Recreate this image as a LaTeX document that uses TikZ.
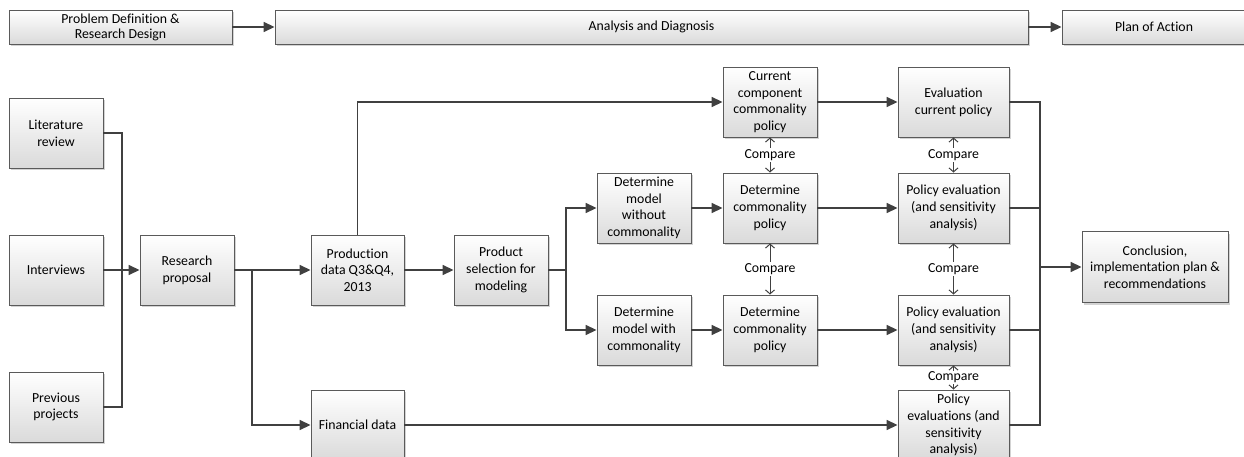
\documentclass[tikz,border=0pt]{standalone}
\usepackage{fontspec}
\setmainfont{Carlito}[Ligatures=NoCommon]
\usetikzlibrary{arrows.meta,shadows,calc}
\definecolor{linegray}{HTML}{404040}
\definecolor{boxedge}{HTML}{5A5A5A}
\definecolor{boxbottom}{HTML}{DADADA}
\tikzset{
  box/.style={draw=boxedge, line width=0.9pt, top color=white, bottom color=boxbottom,
    align=center, inner sep=2pt, font=\fontsize{13.8}{16.7}\selectfont,
    drop shadow={shadow xshift=2pt, shadow yshift=-2pt, opacity=0.35, fill=black!50}},
  sz/.style 2 args={minimum width=#1, minimum height=#2},
  flow/.style={draw=linegray, line width=1.6pt, -{Triangle[length=11pt,width=10pt]}},
  plain/.style={draw=linegray, line width=1.6pt},
  cmp/.style={draw=linegray, line width=1pt,
    {Straight Barb[length=4pt,width=9pt]}-{Straight Barb[length=4pt,width=9pt]}},
  cmplabel/.style={fill=white, inner sep=1pt, font=\fontsize{13.8}{16.7}\selectfont}
}
\begin{document}
\begin{tikzpicture}[x=1pt,y=-1pt]
\clip (0,0) rectangle (1244,457);

% phase bar
\node[box, sz={223pt}{34pt}, font=\fontsize{13.8}{15}\selectfont] (ph1) at (120.5,27) {Problem Definition \&\\Research Design};
\node[box, sz={753pt}{34pt}] (ph2) at (651.5,27) {Analysis and Diagnosis};
\node[box, sz={184pt}{34pt}] (ph3) at (1154,27) {Plan of Action};
\draw[flow] (ph1) -- (ph2);
\draw[flow] (ph2) -- (ph3);

% inputs
\node[box, sz={94pt}{70pt}] (lit) at (56,133) {Literature\\review};
\node[box, sz={94pt}{70pt}] (int) at (56,270) {Interviews};
\node[box, sz={94pt}{70pt}] (prev) at (56,407) {Previous\\projects};
\node[box, sz={94pt}{70pt}] (rp) at (187,270) {Research\\proposal};

% data
\node[box, sz={93pt}{70pt}] (prod) at (357.5,270) {Production\\data Q3\&Q4,\\2013};
\node[box, sz={93pt}{70pt}] (fin) at (357.5,425) {Financial data};
\node[box, sz={94pt}{70pt}] (psel) at (501,270) {Product\\selection for\\modeling};

% models
\node[box, sz={94pt}{70pt}] (dmw) at (644,208) {Determine\\model\\without\\commonality};
\node[box, sz={94pt}{70pt}] (dmc) at (644,330) {Determine\\model with\\commonality};

% policies
\node[box, sz={94pt}{70pt}] (cur) at (770,102) {Current\\component\\commonality\\policy};
\node[box, sz={94pt}{70pt}] (dcp1) at (770,208) {Determine\\commonality\\policy};
\node[box, sz={94pt}{70pt}] (dcp2) at (770,330) {Determine\\commonality\\policy};

% evaluations
\node[box, sz={111pt}{70pt}] (ecp) at (953.5,102) {Evaluation\\current policy};
\node[box, sz={111pt}{70pt}] (pe1) at (953.5,208) {Policy evaluation\\(and sensitivity\\analysis)};
\node[box, sz={111pt}{70pt}] (pe2) at (953.5,330) {Policy evaluation\\(and sensitivity\\analysis)};
\node[box, sz={111pt}{70pt}] (pe3) at (953.5,425) {Policy\\evaluations (and\\sensitivity\\analysis)};

% conclusion
\node[box, sz={146pt}{71pt}] (conc) at (1155,267) {Conclusion,\\implementation plan \&\\recommendations};

% junction points
\coordinate (lbus) at (122,270);
\coordinate (rbr) at (252,270);
\coordinate (pbr) at (566,270);
\coordinate (rbus) at (1040,267);

% left side
\draw[plain] (lit.east) -| (lbus);
\draw[plain] (prev.east) -| (lbus);
\draw[flow] (int) -- (rp);
\draw[flow] (rp) -- (prod);
\draw[flow] (rbr) |- (fin.west);
\draw[flow] (prod.north) |- (cur.west);
\draw[flow] (prod) -- (psel);
\draw[plain] (psel.east) -- (pbr);
\draw[flow] (pbr) |- (dmw.west);
\draw[flow] (pbr) |- (dmc.west);

% middle
\draw[flow] (dmw) -- (dcp1);
\draw[flow] (dmc) -- (dcp2);
\draw[flow] (cur) -- (ecp);
\draw[flow] (dcp1) -- (pe1);
\draw[flow] (dcp2) -- (pe2);
\draw[flow] (fin) -- (pe3);

% comparisons
\draw[cmp] (cur.south) -- node[cmplabel] {Compare} (dcp1.north);
\draw[cmp] (dcp1.south) -- node[cmplabel] {Compare} (dcp2.north);
\draw[cmp] (ecp.south) -- node[cmplabel] {Compare} (pe1.north);
\draw[cmp] (pe1.south) -- node[cmplabel] {Compare} (pe2.north);
\draw[cmp] (pe2.south) -- node[cmplabel] {Compare} (pe3.north);

% right collector
\draw[plain] (ecp.east) -| (rbus);
\draw[plain] (pe3.east) -| (rbus);
\draw[plain] (pe1.east) -- (pe1.east -| rbus);
\draw[plain] (pe2.east) -- (pe2.east -| rbus);
\draw[flow] (rbus) -- (conc.west);
\end{tikzpicture}
\end{document}
